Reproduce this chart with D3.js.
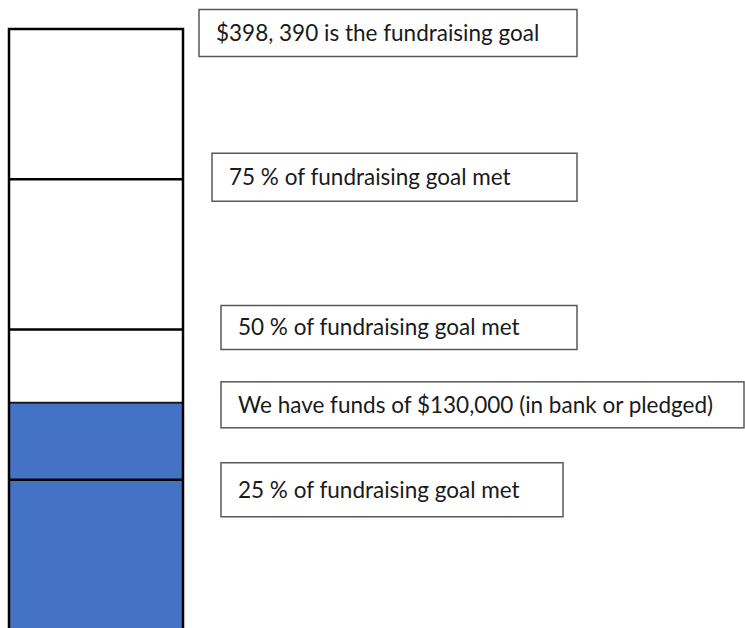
<!DOCTYPE html>
<html>
<head>
<meta charset="utf-8">
<script src="https://cdn.jsdelivr.net/npm/d3@7"></script>
<style>
  html, body { margin: 0; padding: 0; background: #fff; }
  svg { display: block; }
</style>
</head>
<body>
<svg id="chart" width="745" height="628"></svg>
<script>
// goal milestones (percent of goal)
const milestones = [25, 50, 75, 100];
// level the blue fill reaches in the picture (percent of goal)
const filledPct = 37.8;
// annotation texts and the level each one points at
const labels = [
  "$398, 390 is the fundraising goal",
  "75 % of fundraising goal met",
  "50 % of fundraising goal met",
  "We have funds of $130,000 (in bank or pledged)",
  "25 % of fundraising goal met"
];
const labelLevels = [100, 75, 50, filledPct, 25];

// box layout: left, right, vertical offset from the level, height
const boxLayout = [
  { x0: 199, x1: 577, dy: 4, h: 47 },
  { x0: 212, x1: 577, dy: -2, h: 48 },
  { x0: 221, x1: 577, dy: -2, h: 44 },
  { x0: 221, x1: 744, dy: 2, h: 46 },
  { x0: 221, x1: 563, dy: 10, h: 54 }
];

const svg = d3.select("#chart");

const y = d3.scaleLinear().domain([0, 100]).range([630, 29]);
const barX0 = 9, barX1 = 183;

// blue fill
svg.append("rect")
  .attr("x", barX0)
  .attr("y", y(filledPct))
  .attr("width", barX1 - barX0)
  .attr("height", y(0) - y(filledPct))
  .attr("fill", "#4472c4");

// line at fill top
svg.append("line")
  .attr("x1", barX0).attr("x2", barX1)
  .attr("y1", y(filledPct)).attr("y2", y(filledPct))
  .attr("stroke", "#1a1a1a")
  .attr("stroke-width", 2);

// milestone lines
svg.selectAll(".milestone")
  .data(milestones.filter(d => d < 100))
  .enter()
  .append("line")
  .attr("class", "milestone")
  .attr("x1", barX0).attr("x2", barX1)
  .attr("y1", d => y(d)).attr("y2", d => y(d))
  .attr("stroke", "#000")
  .attr("stroke-width", 2.5);

// bar outline
svg.append("rect")
  .attr("x", barX0)
  .attr("y", y(100))
  .attr("width", barX1 - barX0)
  .attr("height", y(0) - y(100))
  .attr("fill", "none")
  .attr("stroke", "#000")
  .attr("stroke-width", 2.5);

// annotation boxes
const boxes = svg.selectAll(".box")
  .data(labels.map((t, i) => ({ text: t, level: labelLevels[i], lay: boxLayout[i] })))
  .enter()
  .append("g")
  .attr("class", "box");

boxes.append("rect")
  .attr("x", d => d.lay.x0)
  .attr("y", d => y(d.level) + d.lay.dy - d.lay.h / 2)
  .attr("width", d => d.lay.x1 - d.lay.x0)
  .attr("height", d => d.lay.h)
  .attr("fill", "#fff")
  .attr("stroke", "#595959")
  .attr("stroke-width", 1.5);

boxes.append("text")
  .attr("x", d => d.lay.x0 + 17)
  .attr("y", d => y(d.level) + d.lay.dy)
  .attr("dy", "0.35em")
  .attr("font-family", "Lato, 'Open Sans', sans-serif")
  .attr("font-size", "22.5px")
  .attr("fill", "#1a1a1a")
  .text(d => d.text);
</script>
</body>
</html>
